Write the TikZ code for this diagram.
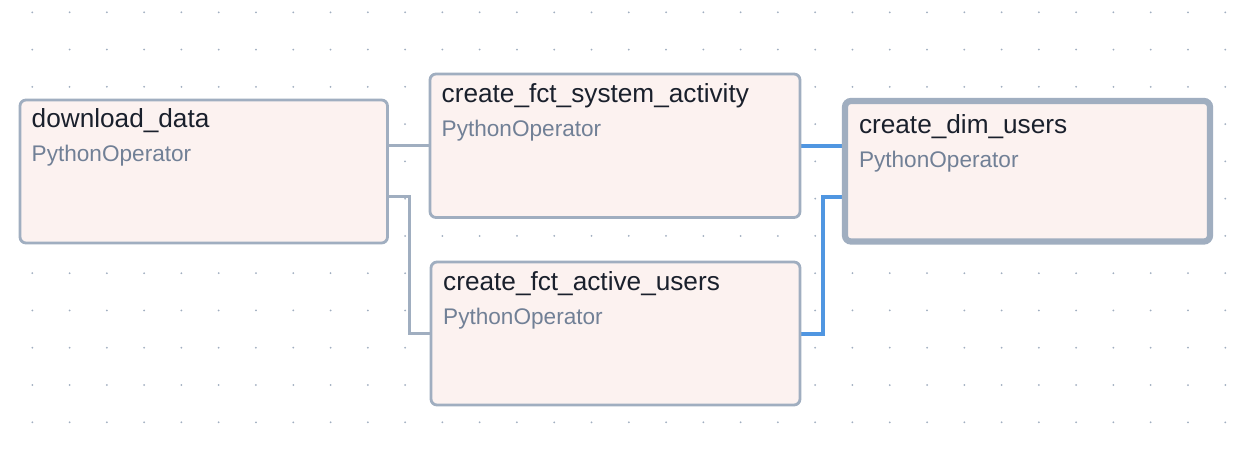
\documentclass[tikz,border=0pt]{standalone}
\usepackage{fontspec}
\setmainfont{Liberation Sans}
\usepackage{xcolor}
\definecolor{dagborder}{HTML}{A0AEC0}
\definecolor{dagfill}{HTML}{FCF2F0}
\definecolor{dagtext}{HTML}{1A202C}
\definecolor{dagsub}{HTML}{718096}
\definecolor{dagblue}{RGB}{80,150,225}
\usetikzlibrary{positioning,calc,backgrounds}

\begin{document}
\begin{tikzpicture}[x=1pt,y=-1pt,
  task/.style={draw=dagborder,fill=dagfill,rounded corners=6pt,outer sep=0pt,inner sep=0pt,anchor=north west},
  ttl/.style={font=\fontsize{26.2}{31}\selectfont,text=dagtext,inner sep=0pt,anchor=base west},
  sub/.style={font=\fontsize{22.6}{27}\selectfont,text=dagsub,inner sep=0pt},
  edge/.style={draw=dagborder,line width=2.8pt},
  done/.style={draw=dagblue,line width=4pt}]
  \useasboundingbox (0,0) rectangle (1234,458);
  % dotted canvas
  \foreach \i in {0,...,32}{
    \foreach \j in {0,...,11}{
      \fill[dagborder] (32.3+37.28*\i,12.3+37.27*\j) circle (1);
    }
  }
  % tasks
  \foreach \n/\x/\y/\w/\h/\lw/\dx/\dy/\txt in {
      dl/20/100/367.5/143/2.8/11.5/27.8/download\_data,
      sa/430/74/370/143.5/2.8/11.5/28.5/create\_fct\_system\_activity,
      au/431/262/369/143/2.8/12/28.3/create\_fct\_active\_users,
      du/845/101/365/140.5/6.2/13.8/32.5/create\_dim\_users}{
    \node[task,line width=\lw pt,minimum width=\w pt,minimum height=\h pt] (\n) at (\x,\y) {};
    \node[ttl] (\n-t) at ([xshift=\dx pt,yshift=-\dy pt]\n.north west) {\txt};
    \node[sub,below=34pt of \n-t.base west,anchor=base west] (\n-s) {PythonOperator};
  }
  % dependencies
  \begin{scope}[on background layer]
    \fill[white] (0,0) rectangle (1234,458);
    \draw[edge] (dl.east |- sa.west) -- (sa.west);
    \draw[edge] ([yshift=-96.7pt]dl.north east) -- ++(21.8,0) |- (au.west);
    \draw[done] (sa.east) -- (sa.east -| du.west);
    \draw[done] (au.east) -- ++(22.6,0) |- ([yshift=-95.7pt]du.north west);
  \end{scope}
\end{tikzpicture}
\end{document}
